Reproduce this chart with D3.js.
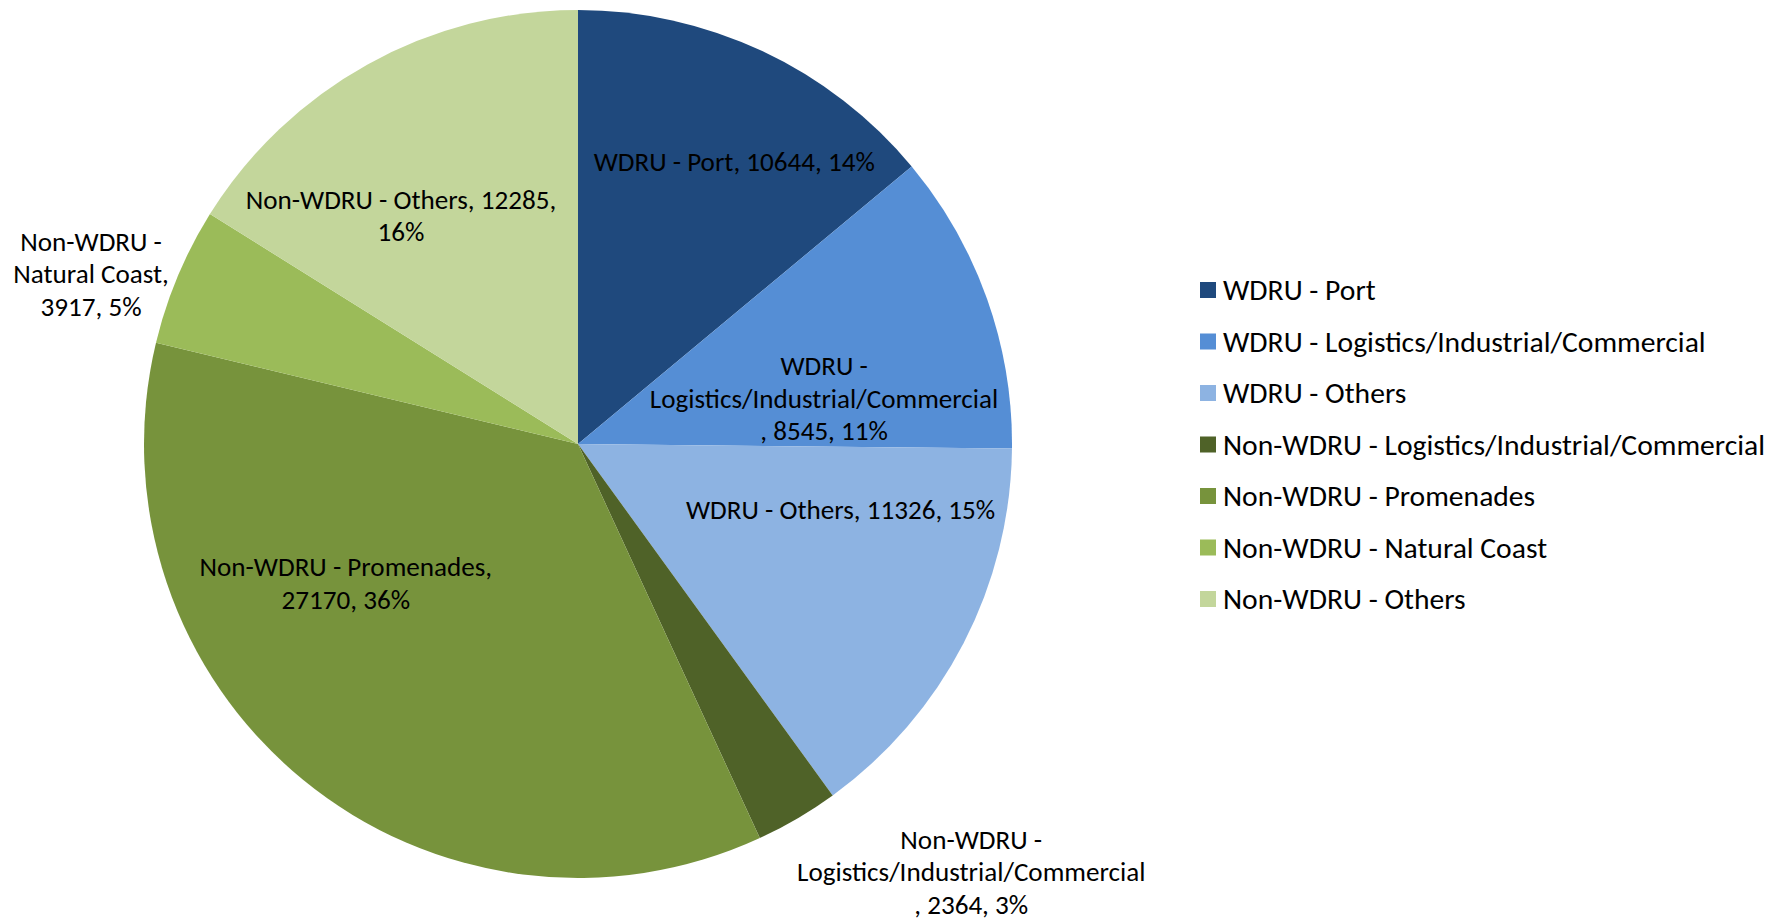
<!DOCTYPE html>
<html>
<head>
<meta charset="utf-8">
<script src="https://cdn.jsdelivr.net/npm/d3@7"></script>
<style>
  html, body { margin: 0; padding: 0; background: #fff; }
  svg { display: block; }
  text { font-family: Carlito, Lato, "Open Sans", sans-serif; fill: #000; }
</style>
</head>
<body>
<svg id="chart" width="1778" height="922"></svg>
<script>
// ---- data ----
const categories = [
  "WDRU - Port",
  "WDRU - Logistics/Industrial/Commercial",
  "WDRU - Others",
  "Non-WDRU - Logistics/Industrial/Commercial",
  "Non-WDRU - Promenades",
  "Non-WDRU - Natural Coast",
  "Non-WDRU - Others"
];
const values = [10644, 8545, 11326, 2364, 27170, 3917, 12285];
const percentLabels = ["14%", "11%", "15%", "3%", "36%", "5%", "16%"];
const labelLines = [
  ["WDRU - Port, 10644, 14%"],
  ["WDRU -", "Logistics/Industrial/Commercial", ", 8545, 11%"],
  ["WDRU - Others, 11326, 15%"],
  ["Non-WDRU -", "Logistics/Industrial/Commercial", ", 2364, 3%"],
  ["Non-WDRU - Promenades,", "27170, 36%"],
  ["Non-WDRU -", "Natural Coast,", "3917, 5%"],
  ["Non-WDRU - Others, 12285,", "16%"]
];

// ---- styles / layout ----
const colors = ["#1F497D", "#558ED5", "#8DB3E2", "#4F6228", "#77933C", "#9BBB59", "#C3D69B"];
// label block centres relative to pie centre, in units of radius
const labelOffsets = [
  [0.360, -0.650], [0.567, -0.106], [0.605, 0.150], [0.906, 0.986],
  [-0.535, 0.320], [-1.122, -0.392], [-0.408, -0.526]
];
const cx = 578, cy = 444, R = 434;
const lineH = 32.5;

const svg = d3.select("#chart");

// fit font size so that text width matches reference
const probe = svg.append("text").attr("font-size", 100).text("WDRU - Port, 10644, 14%");
const w100 = probe.node().getComputedTextLength();
probe.remove();
const base = 100 * 273 / w100;
const fsLabel = base * 1.03;
const fsLegend = base * 1.125;

const pie = d3.pie().value(d => d).sort(null);
const arcs = pie(values);
const arc = d3.arc().innerRadius(0).outerRadius(R);

const g = svg.append("g").attr("transform", `translate(${cx},${cy})`);
g.selectAll("path.slice")
  .data(arcs)
  .join("path")
  .attr("class", "slice")
  .attr("d", arc)
  .attr("fill", (d, i) => colors[i]);

// labels
const lg = g.append("g");
arcs.forEach((a, i) => {
  const lines = labelLines[i];
  const [ox, oy] = labelOffsets[i];
  const x = ox * R, y = oy * R;
  const t = lg.append("text")
    .attr("text-anchor", "middle")
    .attr("font-size", fsLabel)
    .attr("x", x)
    .attr("y", y - (lines.length - 1) * lineH / 2);
  lines.forEach((ln, k) => {
    t.append("tspan").attr("x", x).attr("dy", k === 0 ? "0.35em" : lineH).text(ln);
  });
});

// legend
const legY = d3.scalePoint().domain(categories).range([290, 599]);
const leg = svg.append("g");
const items = leg.selectAll("g").data(categories).join("g")
  .attr("transform", d => `translate(1200,${legY(d)})`);
items.append("rect")
  .attr("x", 0).attr("y", -8).attr("width", 16).attr("height", 16)
  .attr("fill", (d, i) => colors[i]);
items.append("text")
  .attr("x", 23).attr("y", 0).attr("dy", "0.35em")
  .attr("font-size", fsLegend)
  .text(d => d);
</script>
</body>
</html>
